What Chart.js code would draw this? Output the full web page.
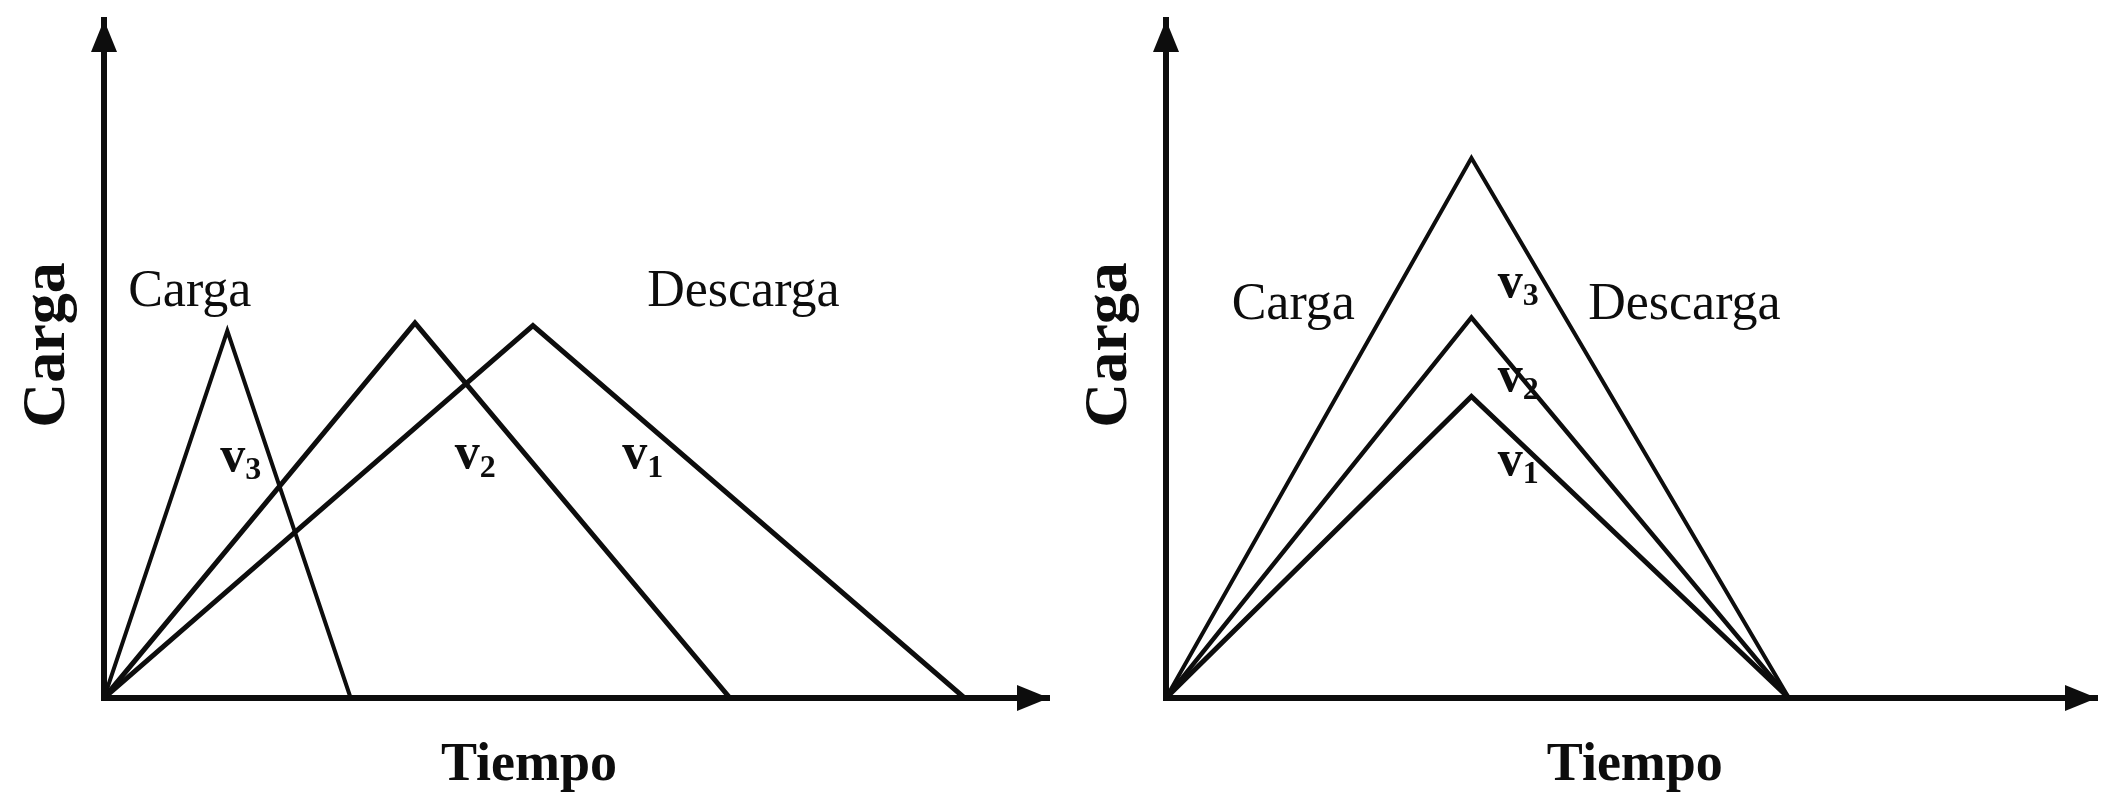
<!DOCTYPE html>
<html lang="es">
<head>
<meta charset="UTF-8">
<title>Carga y descarga</title>
<script src="https://cdn.jsdelivr.net/npm/chart.js"></script>
<style>
  html, body { margin: 0; padding: 0; background: #fff; overflow: hidden; }
  .panel { position: absolute; top: 0; height: 795px; }
</style>
</head>
<body>
<div class="panel" style="left:0;width:1050px"><canvas id="left"></canvas></div>
<div class="panel" style="left:1050px;width:1051px"><canvas id="right"></canvas></div>
<script>
// series names (v3 fastest ... v1 slowest)
const seriesNames = ['v3', 'v2', 'v1'];

// left panel: same peak load, different speeds
const leftTime = [[0, 9.2, 18.4], [0, 23.2, 46.7], [0, 32.0, 64.2]];
const leftLoad = [[0, 27.4, 0], [0, 28.0, 0], [0, 27.8, 0]];

// right panel: same duration, different peak load
const rightTime = [[0, 22.8, 46.5], [0, 22.8, 46.5], [0, 22.8, 46.5]];
const rightLoad = [[0, 40.3, 0], [0, 28.4, 0], [0, 22.5, 0]];

const leftTimeMax = 70.5;
const rightTimeMax = 69.5;
const loadMax = 50.6;

// text placed on the drawing
const leftNotes = [
    { text: 'Carga', x: 6.4, y: 30.3 },
    { text: 'Descarga', x: 47.7, y: 30.3 },
    { v: '3', x: 10.2, y: 17.9 },
    { v: '2', x: 27.7, y: 18.1 },
    { v: '1', x: 40.2, y: 18.1 }
];
const rightNotes = [
    { text: 'Carga', x: 9.5, y: 29.3 },
    { text: 'Descarga', x: 38.7, y: 29.3 },
    { v: '3', x: 26.3, y: 30.9 },
    { v: '2', x: 26.3, y: 23.9 },
    { v: '1', x: 26.3, y: 17.6 }
];

const ink = '#0d0d0d';
const serif = '"Liberation Serif", "Times New Roman", serif';

const sketch = {
    id: 'sketch',
    afterDraw(chart, args, opts) {
        const { ctx, chartArea: a, scales: { x, y } } = chart;
        ctx.save();
        ctx.fillStyle = ink;

        // arrow heads on both axes
        ctx.beginPath();
        ctx.moveTo(a.left, a.top);
        ctx.lineTo(a.left - 13, a.top + 32);
        ctx.lineTo(a.left + 13, a.top + 32);
        ctx.closePath();
        ctx.fill();
        ctx.beginPath();
        ctx.moveTo(a.right, a.bottom);
        ctx.lineTo(a.right - 32, a.bottom - 13);
        ctx.lineTo(a.right - 32, a.bottom + 13);
        ctx.closePath();
        ctx.fill();

        // axis titles
        ctx.textAlign = 'center';
        ctx.textBaseline = 'middle';
        ctx.font = 'bold 54px ' + serif;
        ctx.fillText('Tiempo', x.getPixelForValue(opts.titleAt), 766);
        ctx.save();
        ctx.font = 'bold 62px ' + serif;
        ctx.translate(a.left - 56, (a.top + a.bottom) / 2 - 14);
        ctx.rotate(-Math.PI / 2);
        ctx.fillText('Carga', 0, 0);
        ctx.restore();

        // notes
        opts.notes.forEach(n => {
            const px = x.getPixelForValue(n.x);
            const py = y.getPixelForValue(n.y);
            if (n.text) {
                ctx.font = '52px ' + serif;
                ctx.textAlign = 'center';
                ctx.fillText(n.text, px, py);
            } else {
                ctx.font = 'bold 50px ' + serif;
                const wv = ctx.measureText('v').width;
                ctx.font = 'bold 32px ' + serif;
                const ws = ctx.measureText(n.v).width;
                const x0 = px - (wv + ws) / 2;
                ctx.textAlign = 'left';
                ctx.font = 'bold 50px ' + serif;
                ctx.fillText('v', x0, py);
                ctx.font = 'bold 32px ' + serif;
                ctx.fillText(n.v, x0 + wv, py + 13);
            }
        });
        ctx.restore();
    }
};

function makeChart(id, times, loads, widths, timeMax, notes, titleAt, pad) {
    const datasets = seriesNames.map((name, i) => ({
        label: name,
        data: times[i].map((t, k) => ({ x: t, y: loads[i][k] })),
        borderColor: ink,
        borderWidth: widths[i],
        pointRadius: 0,
        tension: 0,
        borderJoinStyle: 'miter',
        fill: false
    }));
    return new Chart(document.getElementById(id), {
        type: 'line',
        data: { datasets: datasets },
        options: {
            responsive: true,
            maintainAspectRatio: false,
            devicePixelRatio: 1,
            animation: false,
            layout: { padding: pad },
            plugins: {
                legend: { display: false },
                tooltip: { enabled: false },
                sketch: { notes: notes, titleAt: titleAt }
            },
            scales: {
                x: {
                    type: 'linear', min: 0, max: timeMax,
                    grid: { display: false, drawTicks: false },
                    ticks: { display: false },
                    border: { color: ink, width: 6 }
                },
                y: {
                    type: 'linear', min: 0, max: loadMax,
                    grid: { display: false, drawTicks: false },
                    ticks: { display: false },
                    border: { color: ink, width: 6 }
                }
            }
        },
        plugins: [sketch]
    });
}

makeChart('left', leftTime, leftLoad, [4, 5, 5], leftTimeMax, leftNotes, 31.7,
    { left: 104, right: 1, top: 20, bottom: 97 });
makeChart('right', rightTime, rightLoad, [4, 4.5, 5], rightTimeMax, rightNotes, 35,
    { left: 116, right: 4, top: 20, bottom: 97 });
</script>
</body>
</html>
